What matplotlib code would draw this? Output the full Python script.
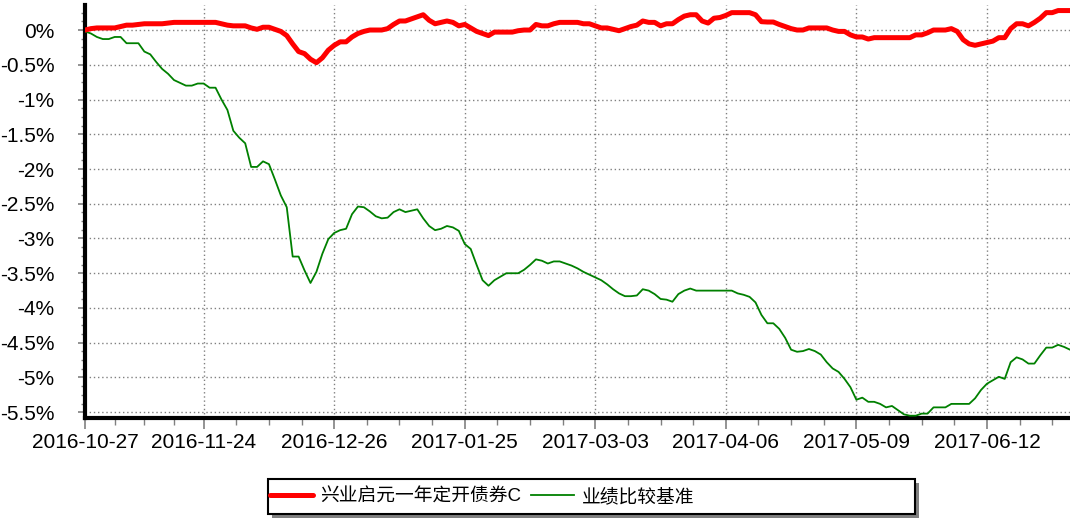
import matplotlib
matplotlib.use('Agg')
from matplotlib import pyplot as plt
from matplotlib.ticker import FuncFormatter, MultipleLocator, FixedLocator
from matplotlib.patches import Rectangle
import numpy as np

tick_pos = [0, 20, 42, 64, 86, 108, 130, 152]
tick_labels = ['2016-10-27', '2016-11-24', '2016-12-26', '2017-01-25',
               '2017-03-03', '2017-04-06', '2017-05-09', '2017-06-12']

fund_name = '兴业启元一年定开债券C'
bench_name = '业绩比较基准'

fund = [0.00, 0.02, 0.03, 0.03, 0.03, 0.03, 0.05, 0.07, 0.07, 0.08,
        0.09, 0.09, 0.09, 0.09, 0.10, 0.11, 0.11, 0.11, 0.11, 0.11,
        0.11, 0.11, 0.11, 0.09, 0.07, 0.06, 0.06, 0.06, 0.03, 0.01,
        0.04, 0.04, 0.01, -0.02, -0.08, -0.20, -0.31, -0.34, -0.42, -0.47,
        -0.40, -0.29, -0.22, -0.17, -0.17, -0.10, -0.05, -0.02, 0.00, 0.00,
        0.00, 0.02, 0.08, 0.13, 0.13, 0.16, 0.19, 0.22, 0.14, 0.09,
        0.11, 0.13, 0.11, 0.06, 0.08, 0.03, -0.02, -0.05, -0.08, -0.03,
        -0.03, -0.03, -0.03, -0.01, 0.00, 0.00, 0.08, 0.06, 0.06, 0.09,
        0.11, 0.11, 0.11, 0.11, 0.09, 0.09, 0.06, 0.03, 0.03, 0.01,
        -0.01, 0.02, 0.05, 0.07, 0.13, 0.11, 0.11, 0.06, 0.09, 0.09,
        0.15, 0.20, 0.22, 0.22, 0.13, 0.10, 0.17, 0.18, 0.21, 0.25,
        0.25, 0.25, 0.25, 0.22, 0.12, 0.115, 0.115, 0.08, 0.05, 0.02,
        0.00, 0.00, 0.03, 0.03, 0.03, 0.03, 0.00, -0.02, -0.02, -0.07,
        -0.10, -0.10, -0.13, -0.11, -0.11, -0.11, -0.11, -0.11, -0.11, -0.11,
        -0.07, -0.07, -0.04, 0.00, 0.00, 0.00, 0.02, -0.02, -0.14, -0.20,
        -0.22, -0.20, -0.18, -0.16, -0.11, -0.11, 0.02, 0.09, 0.09, 0.06,
        0.11, 0.17, 0.25, 0.25, 0.28, 0.28, 0.28]

bench = [-0.02, -0.05, -0.10, -0.13, -0.13, -0.10, -0.10, -0.19, -0.19, -0.19,
         -0.31, -0.35, -0.46, -0.56, -0.63, -0.72, -0.76, -0.80, -0.80, -0.77,
         -0.77, -0.83, -0.83, -1.00, -1.15, -1.45, -1.55, -1.63, -1.97, -1.97,
         -1.89, -1.93, -2.15, -2.38, -2.55, -3.26, -3.26, -3.46, -3.64, -3.48,
         -3.22, -3.01, -2.92, -2.88, -2.86, -2.65, -2.54, -2.55, -2.61, -2.68,
         -2.71, -2.70, -2.62, -2.58, -2.62, -2.60, -2.58, -2.71, -2.82, -2.88,
         -2.86, -2.82, -2.84, -2.89, -3.08, -3.15, -3.38, -3.60, -3.68, -3.60,
         -3.55, -3.50, -3.50, -3.50, -3.45, -3.38, -3.30, -3.32, -3.36, -3.33,
         -3.33, -3.36, -3.39, -3.43, -3.48, -3.52, -3.56, -3.60, -3.66, -3.73,
         -3.79, -3.83, -3.83, -3.82, -3.73, -3.75, -3.80, -3.87, -3.88, -3.91,
         -3.80, -3.75, -3.72, -3.75, -3.75, -3.75, -3.75, -3.75, -3.75, -3.75,
         -3.79, -3.81, -3.84, -3.92, -4.10, -4.22, -4.22, -4.30, -4.43, -4.60,
         -4.63, -4.62, -4.59, -4.62, -4.67, -4.78, -4.87, -4.92, -5.02, -5.14,
         -5.32, -5.29, -5.35, -5.35, -5.38, -5.43, -5.41, -5.47, -5.53, -5.55,
         -5.55, -5.52, -5.52, -5.43, -5.43, -5.43, -5.38, -5.38, -5.38, -5.38,
         -5.30, -5.18, -5.09, -5.04, -4.99, -5.02, -4.78, -4.71, -4.74, -4.80,
         -4.80, -4.68, -4.57, -4.57, -4.53, -4.56, -4.60]

plt.rcParams['font.family'] = ['Liberation Sans', 'Noto Sans CJK SC', 'DejaVu Sans']

W, H = 1070, 519
fig = plt.figure(figsize=(W / 100, H / 100), dpi=100)
ax = fig.add_axes([85 / W, 1 - 418 / H, 985 / W, 413 / H])

x = np.arange(len(fund))
ax.plot(x, fund, color='#ff0000', lw=3.6, label=fund_name,
        solid_joinstyle='round', solid_capstyle='round', zorder=4)
ax.plot(x, bench, color='#008000', lw=1.3, label=bench_name, zorder=3)

ax.set_xlim(0, len(fund) - 1)
ax.set_ylim(-5.583, 0.36)

ax.xaxis.set_major_locator(FixedLocator(tick_pos))
ax.set_xticklabels(tick_labels)
minor = []
for a, b in zip(tick_pos, tick_pos[1:] + [174]):
    step = (b - a) / 4
    minor += [a + step * k for k in (1, 2, 3)]
ax.xaxis.set_minor_locator(FixedLocator(minor))

ax.yaxis.set_major_locator(MultipleLocator(0.5))
ax.yaxis.set_minor_locator(MultipleLocator(0.125))
ax.yaxis.set_major_formatter(FuncFormatter(lambda v, p: '%g%%' % round(v, 2)))

ax.grid(True, which='major', linestyle=(0, (1, 2)), color='#808080', lw=1.0)

for s in ['top', 'right']:
    ax.spines[s].set_visible(False)
for s in ['left', 'bottom']:
    ax.spines[s].set_linewidth(3)
    ax.spines[s].set_color('black')

ax.tick_params(axis='both', which='major', labelsize=15, colors='#808080',
               labelcolor='black')
ax.tick_params(axis='x', which='major', length=8, width=1.2, pad=3)
ax.tick_params(axis='x', which='minor', length=5, width=1, colors='#808080')
ax.tick_params(axis='y', which='major', length=5, width=1.2, pad=17)
ax.tick_params(axis='y', which='minor', length=3, width=1, colors='#808080')

# legend box with drop shadow
bx0, by0, bx1, by1 = 268, 479, 915, 514
fig.patches.append(Rectangle(((bx0 + 4) / W, 1 - (by1 + 4) / H), (bx1 - bx0) / W,
                             (by1 - by0) / H, transform=fig.transFigure,
                             facecolor='#808080', edgecolor='none', zorder=1))
fig.patches.append(Rectangle((bx0 / W, 1 - by1 / H), (bx1 - bx0) / W,
                             (by1 - by0) / H, transform=fig.transFigure,
                             facecolor='white', edgecolor='black', lw=1.5, zorder=2))

leg = fig.legend(loc='center left', bbox_to_anchor=(270 / W, 1 - 497 / H),
                 ncol=2, frameon=False,
                 prop={'family': ['Liberation Sans', 'Noto Sans CJK SC', 'DejaVu Sans'],
                       'size': 13.5},
                 handlelength=2.3, columnspacing=0.5, handletextpad=0.4,
                 borderpad=0, borderaxespad=0)
leg.set_zorder(5)

fig.savefig('out.png', dpi=100)
